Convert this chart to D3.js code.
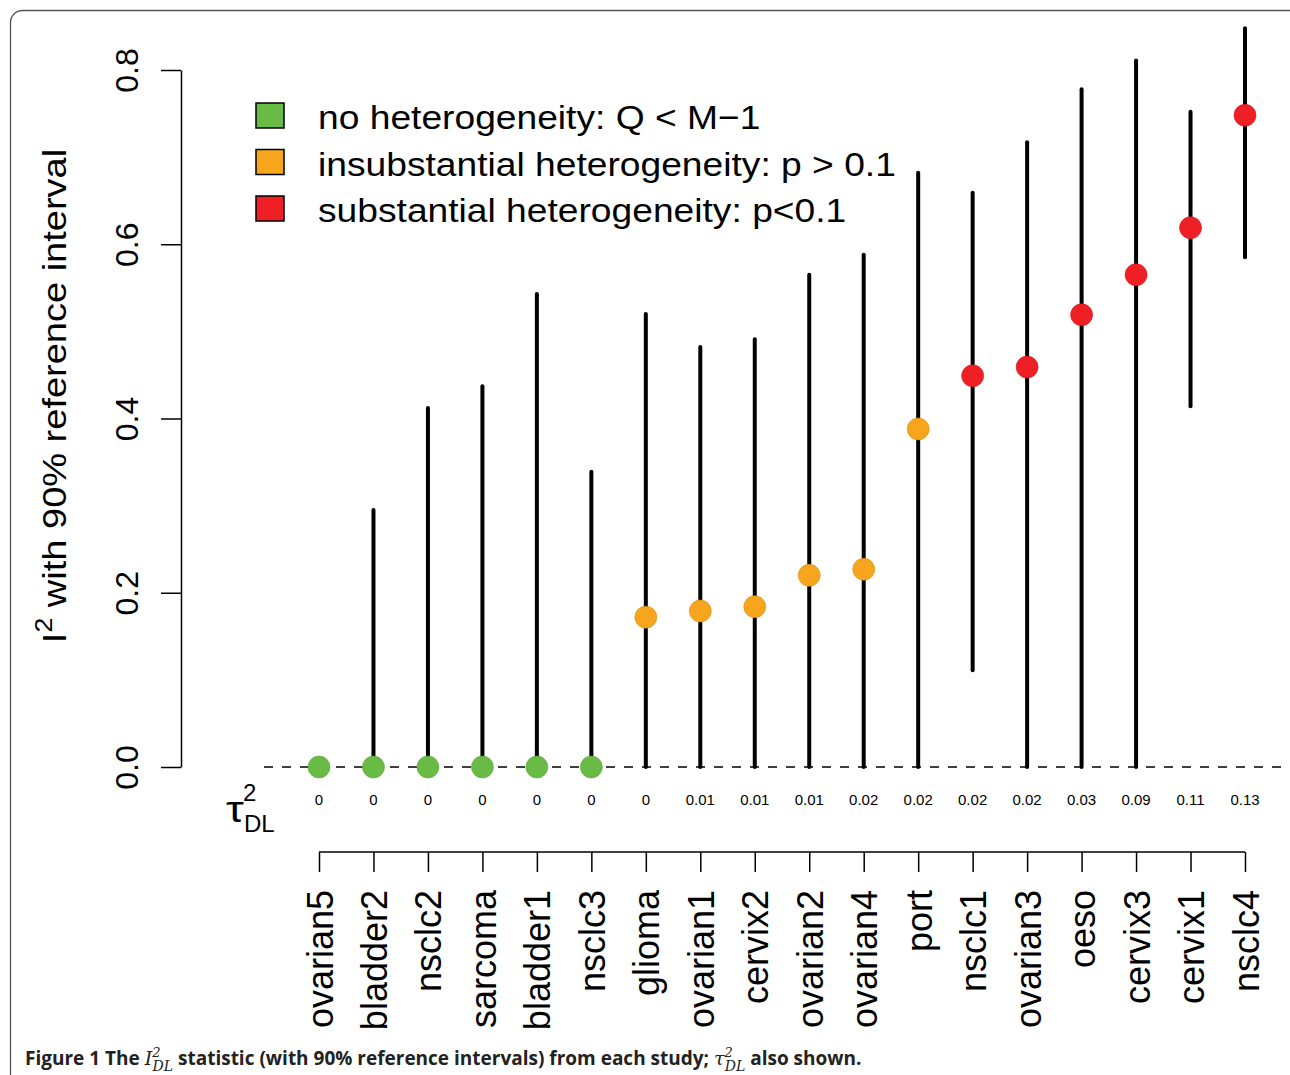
<!DOCTYPE html>
<html>
<head>
<meta charset="utf-8">
<script src="https://cdn.jsdelivr.net/npm/d3@7"></script>
<style>
html,body{margin:0;padding:0;background:#fff;}
svg{display:block;}
</style>
</head>
<body>
<svg id="chart" width="1290" height="1075"></svg>
<script>
const studies = ["ovarian5","bladder2","nsclc2","sarcoma","bladder1","nsclc3","glioma","ovarian1","cervix2","ovarian2","ovarian4","port","nsclc1","ovarian3","oeso","cervix3","cervix1","nsclc4"];
const i2 =   [0,0,0,0,0,0,0.172,0.179,0.184,0.220,0.227,0.388,0.449,0.459,0.519,0.565,0.619,0.748];
const lower = [0,0,0,0,0,0,0,0,0,0,0,0,0.111,0,0,0,0.414,0.585];
const upper = [0,0.295,0.412,0.437,0.543,0.339,0.520,0.482,0.491,0.565,0.588,0.682,0.659,0.717,0.778,0.811,0.752,0.848];
const tau2Labels = ["0","0","0","0","0","0","0","0.01","0.01","0.01","0.02","0.02","0.02","0.02","0.03","0.09","0.11","0.13"];
const groups = ["none","none","none","none","none","none","insub","insub","insub","insub","insub","insub","sub","sub","sub","sub","sub","sub"];
const yTicks = [0,0.2,0.4,0.6,0.8];
const legendKeys = ["none","insub","sub"];
const legendLabels = ["no heterogeneity: Q < M\u22121","insubstantial heterogeneity: p > 0.1","substantial heterogeneity: p<0.1"];
const colorMap = {none:"#6abb45", insub:"#f8a51e", sub:"#ee1f25"};

const svg = d3.select("#chart");
const font = "'Liberation Sans', Arial, sans-serif";

// frame
svg.append("rect").attr("x",10.5).attr("y",10.5).attr("width",1300).attr("height",1100)
  .attr("rx",12).attr("fill","none").attr("stroke","#555").attr("stroke-width",1.3);

const x = d3.scalePoint().domain(studies).range([319,1245]);
const y = d3.scaleLinear().domain([0,0.8]).range([767,70]);

// y axis
const yAxis = svg.append("g").attr("transform","translate(181,0)")
  .call(d3.axisLeft(y).tickValues(yTicks).tickFormat(d3.format(".1f")).tickSize(20).tickSizeOuter(0));
yAxis.select(".domain").attr("stroke","#000").attr("stroke-width",1.5);
yAxis.selectAll(".tick line").attr("stroke","#000").attr("stroke-width",1.5);
yAxis.selectAll(".tick text").attr("font-family",font).attr("font-size",32).attr("fill","#000")
  .attr("x",0).attr("y",0).attr("dy",null).attr("text-anchor","middle")
  .attr("transform","translate(-43,0) rotate(-90)");

// y title
const yt = svg.append("text").attr("font-family",font).attr("font-size",34).attr("fill","#000")
  .attr("text-anchor","middle").attr("transform","translate(66,396) rotate(-90) scale(1.118,1)");
yt.append("tspan").text("I");
yt.append("tspan").attr("font-size",24).attr("dy",-14).text("2");
yt.append("tspan").attr("dy",14).text(" with 90% reference interval");

// dashed zero line
svg.append("line").attr("x1",264).attr("x2",1290).attr("y1",y(0)).attr("y2",y(0))
  .attr("stroke","#000").attr("stroke-width",1.5).attr("stroke-dasharray","9,9");

// intervals
const idx = d3.range(studies.length);
svg.append("g").selectAll("line").data(idx.filter(i=>upper[i]>lower[i])).join("line")
  .attr("x1",i=>x(studies[i])).attr("x2",i=>x(studies[i]))
  .attr("y1",i=>y(lower[i])).attr("y2",i=>y(upper[i]))
  .attr("stroke","#000").attr("stroke-width",4).attr("stroke-linecap","round");

// points
svg.append("g").selectAll("circle").data(idx).join("circle")
  .attr("cx",i=>x(studies[i])).attr("cy",i=>y(i2[i])).attr("r",11)
  .attr("fill",i=>colorMap[groups[i]])
  .attr("stroke",i=>d3.color(colorMap[groups[i]]).darker(0.4)).attr("stroke-width",0.6);

// tau labels
svg.append("g").selectAll("text").data(idx).join("text")
  .attr("x",i=>x(studies[i])).attr("y",805).attr("text-anchor","middle")
  .attr("font-family",font).attr("font-size",15).attr("fill","#000")
  .text(i=>tau2Labels[i]);

// tau symbol
const tau = svg.append("g").attr("font-family",font).attr("fill","#000");
tau.append("text").attr("font-size",36).attr("x",0).attr("y",0)
  .attr("transform","translate(226,822) scale(1.25,1)").text("\u03C4");
tau.append("text").attr("font-size",24).attr("x",243).attr("y",801).text("2");
tau.append("text").attr("font-size",24).attr("x",244).attr("y",832).text("DL");

// bottom axis
const xAxis = svg.append("g").attr("transform","translate(0,852)")
  .call(d3.axisBottom(x).tickSize(20).tickSizeOuter(0));
xAxis.select(".domain").attr("stroke","#000").attr("stroke-width",1.5).attr("d","M319,0H1245");
xAxis.selectAll(".tick line").attr("stroke","#000").attr("stroke-width",1.5);
xAxis.selectAll(".tick text").attr("font-family",font).attr("font-size",36).attr("fill","#000")
  .attr("text-anchor","end").attr("dy",null).attr("y",0).attr("x",0)
  .attr("transform","translate(13,38) rotate(-90)");

// legend
const lg = svg.append("g");
lg.selectAll("rect").data(legendKeys).join("rect")
  .attr("x",256).attr("y",(d,i)=>103+i*46.5).attr("width",28).attr("height",25)
  .attr("fill",d=>colorMap[d]).attr("stroke","#000").attr("stroke-width",1.5);
lg.selectAll("text").data(legendLabels).join("text")
  .attr("x",0).attr("y",0)
  .attr("transform",(d,i)=>`translate(318,${129+i*46.5}) scale(1.094,1)`)
  .attr("font-family",font).attr("font-size",34).attr("fill","#000").text(d=>d);

// caption
const it = "'DejaVu Serif', serif";
const cap = svg.append("text").attr("x",25).attr("y",1065).attr("font-family","'Open Sans', sans-serif")
  .attr("font-weight","bold").attr("font-size",19).attr("fill","#222");
cap.append("tspan").text("Figure 1 ");
cap.append("tspan").text("The ");
cap.append("tspan").attr("font-family",it).attr("font-style","italic").attr("font-weight","normal").text("I");
cap.append("tspan").attr("font-family",it).attr("font-style","italic").attr("font-weight","normal").attr("font-size",13).attr("dy",-8).text("2");
cap.append("tspan").attr("font-family",it).attr("font-style","italic").attr("font-weight","normal").attr("font-size",14).attr("dx",-8).attr("dy",14).text("DL");
cap.append("tspan").attr("dy",-6).text(" statistic (with 90% reference intervals) from each study; ");
cap.append("tspan").attr("font-family",it).attr("font-style","italic").attr("font-weight","normal").text("\u03C4");
cap.append("tspan").attr("font-family",it).attr("font-style","italic").attr("font-weight","normal").attr("font-size",13).attr("dy",-8).text("2");
cap.append("tspan").attr("font-family",it).attr("font-style","italic").attr("font-weight","normal").attr("font-size",14).attr("dx",-8).attr("dy",14).text("DL");
cap.append("tspan").attr("dy",-6).text(" also shown.");
</script>
</body>
</html>
